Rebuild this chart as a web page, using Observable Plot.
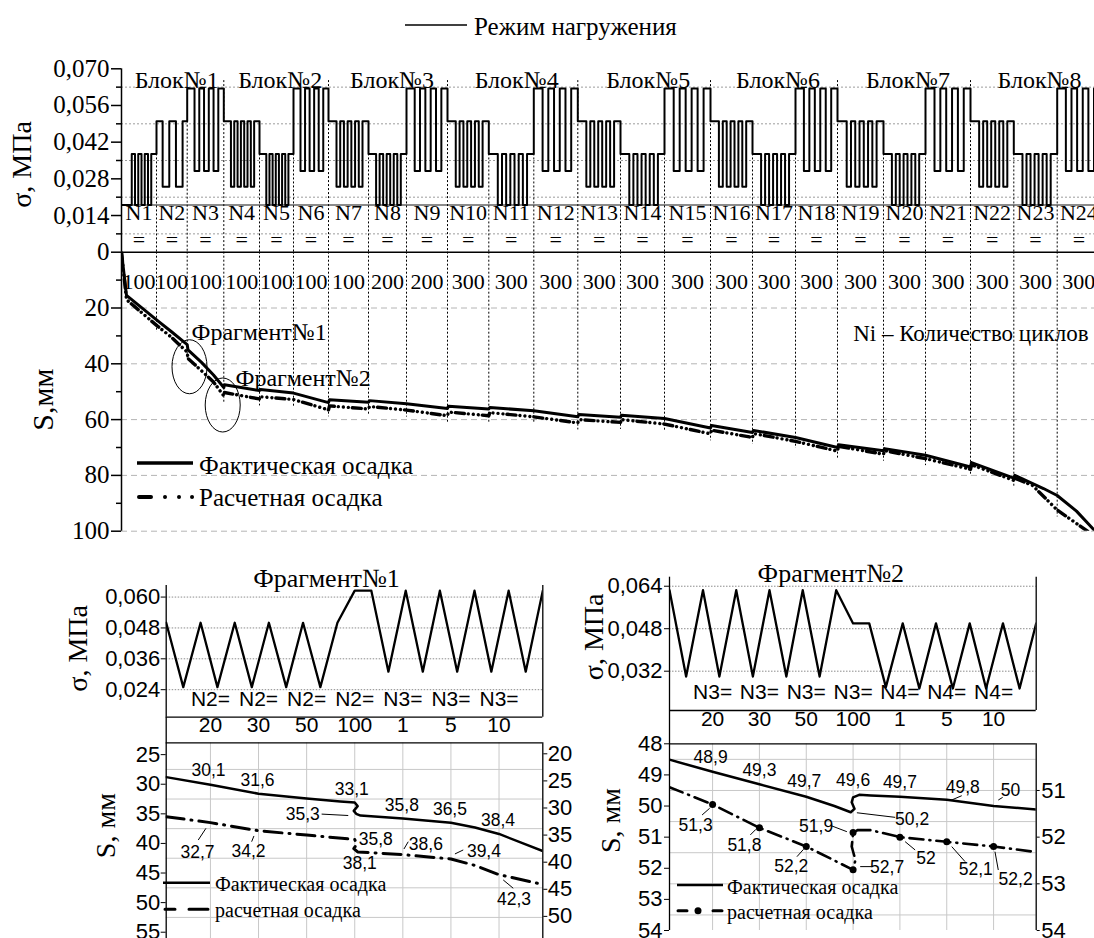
<!DOCTYPE html>
<html lang="ru">
<head>
<meta charset="utf-8">
<title>Режим нагружения и осадка</title>
<script src="https://cdn.jsdelivr.net/npm/d3@7"></script>
<script src="https://cdn.jsdelivr.net/npm/@observablehq/plot@0.6"></script>
<style>
  html, body { margin: 0; padding: 0; background: #fff; }
  #wrap { position: relative; width: 1094px; height: 938px; overflow: hidden; background: #fff; }
</style>
</head>
<body>
<div id="wrap"></div>
<script>
const SERIF = "Liberation Serif, Times New Roman, DejaVu Serif, serif";
const SANS = "Liberation Sans, Arial, DejaVu Sans, sans-serif";

// ================= DATA: main chart =================
const segNames = ["N1","N2","N3","N4","N5","N6","N7","N8","N9","N10","N11","N12","N13","N14","N15","N16","N17","N18","N19","N20","N21","N22","N23","N24"];
const segCycles = [100,100,100,100,100,100,100,200,200,300,300,300,300,300,300,300,300,300,300,300,300,300,300,300];
const segDuration = [35,30.7,36.6,35.7,34,35,40,38,41,41.3,45,44,42.7,44,46,42,43,42,46,42,45,43.3,43.4,43.3];
const segHigh = [0.0375,0.05,0.0625,0.05,0.0375,0.0625,0.05,0.0375,0.0625,0.05,0.0375,0.0625,0.05,0.0375,0.0625,0.05,0.0375,0.0625,0.05,0.0375,0.0625,0.05,0.0375,0.0625];
const segLow  = [0.018,0.025,0.031,0.025,0.018,0.031,0.025,0.018,0.031,0.025,0.018,0.031,0.025,0.018,0.031,0.025,0.018,0.031,0.025,0.018,0.031,0.025,0.018,0.031];
const segNotches = [4,2,3,4,4,3,4,4,3,4,4,3,4,4,3,4,4,3,4,4,3,4,4,3];
const blockNames = ["Блок№1","Блок№2","Блок№3","Блок№4","Блок№5","Блок№6","Блок№7","Блок№8"];
const baseLevel = 0.018;
const stressTicks = [0,0.014,0.028,0.042,0.056,0.070];
const stressMinor = [0.007,0.021,0.035,0.049,0.063];
const settleTicks = [20,40,60,80,100];
const settleMinor = [10,30,50,70,90];

// settlement curves (time units, mm)
const actualT = [0,5,36,50,65.7,66.5,80,92,102.3,103,138,139,172,207,208,247,248,285,326,327,367.3,368.3,412.3,456.3,457.3,499,500,543,589,590,631,632,674,716,717,762,763,804,849,850,892.3,893.3,922,935.7,955,973];
const actualS = [0,15.5,24.5,28.5,33.1,35.0,39.5,44,48.5,47.5,49.6,49.2,50.5,53.9,52.9,53.8,53.2,54.3,56.0,55.2,56.2,55.7,56.8,59.0,58.2,59.2,58.4,59.6,63.0,62.1,64.6,63.9,66.4,70.0,69.0,71.2,70.4,72.8,77.0,75.4,81.0,80.0,84.7,87.2,92.8,99.7];
const calcT = [0,5,36,50,65.7,66.5,80,92,102.3,103,138,139,172,207,208,247,248,285,326,327,367.3,368.3,412.3,456.3,457.3,499,500,543,589,590,631,632,674,716,717,762,763,804,849,850,892.3,893.3,911,935.7,966,980];
const calcS = [0,17,26.5,30.5,35.8,38.1,42.5,46.5,51.5,50.3,52.6,51.8,52.8,56.5,55.1,56.2,55.3,56.6,58.6,57.3,58.6,57.5,59.0,61.2,60.0,61.0,60.0,61.6,65.1,63.8,66.4,65.0,67.8,71.3,69.6,72.4,71.1,74.0,77.8,76.2,81.8,81.0,83.6,92.4,100,103];

// ================= DATA: fragments =================
const fragI = [0,1,2,3,4,5,6];
const fragCycles = [20,30,50,100,1,5,10];
const frag1Seg = ["N2","N2","N2","N2","N3","N3","N3"];
const frag2Seg = ["N3","N3","N3","N3","N4","N4","N4"];
const fragWaveI = [-0.92,-0.565,-0.205,0.145,0.505,0.86,1.215,1.575,1.925,2.285,2.64,3.0,3.345,3.7,4.06,4.415,4.77,5.13,5.49,5.84,6.2,6.555,6.91];
const frag1Stress = [0.050,0.025,0.050,0.025,0.050,0.025,0.050,0.025,0.050,0.025,0.050,0.0625,0.0625,0.031,0.0625,0.031,0.0625,0.031,0.0625,0.031,0.0625,0.031,0.0625];
const frag2Stress = [0.0625,0.030,0.0625,0.030,0.0625,0.030,0.0625,0.030,0.0625,0.030,0.0625,0.050,0.050,0.026,0.050,0.0255,0.050,0.0255,0.050,0.0255,0.050,0.0255,0.050];
const frag1Ticks = [0.024,0.036,0.048,0.060];
const frag2Ticks = [0.032,0.048,0.064];

const f1ActI = [-0.92,0,1,2,2.7,3.0,3.06,2.98,3.03,3.12,4,5,5.5,6,6.91];
const f1ActS = [28.8,30.1,31.6,32.4,32.9,33.1,33.7,34.5,35.0,35.3,35.8,36.5,37.3,38.4,41.3];
const f1CalcI = [-0.92,0,1,2,3.0,3.04,2.98,3.06,4,5,5.5,6,6.91];
const f1CalcS = [31.6,32.7,34.2,35.0,35.8,36.7,37.5,38.1,38.6,39.4,40.6,42.3,44.1];
const f1ActValI = [0,1,3,3,4,5,6];
const f1ActVals = [30.1,31.6,33.1,35.3,35.8,36.5,38.4];
const f1CalcValI = [0,1,3,3,4,5,6];
const f1CalcVals = [32.7,34.2,35.8,38.1,38.6,39.4,42.3];

const f2ActI = [-0.92,0,1,2,2.6,2.95,3.03,2.97,3.0,3.13,3.38,4,5,6,6.91];
const f2ActS = [48.51,48.9,49.3,49.7,50.0,50.2,50.09,49.88,49.72,49.64,49.66,49.7,49.8,50.0,50.11];
const f2CalcI = [-0.92,0,1,2,2.7,3.0,3.05,2.97,3.0,3.09,3.38,4,5,6,6.91];
const f2CalcS = [50.93,51.3,51.8,52.2,52.55,52.7,52.49,52.2,51.93,51.85,51.85,52.0,52.1,52.2,52.32];
const f2ActValI = [0,1,2,3,3,4,5,6];
const f2ActVals = [48.9,49.3,49.7,50.2,49.6,49.7,49.8,50];
const f2CalcValI = [0,1,2,3,3,4,5,6];
const f2CalcVals = [51.3,51.8,52.2,52.7,51.9,52,52.1,52.2];

// ================= LAYOUT (label offsets in px: dx, dy, leader[x1,y1,x2,y2]) =================
const f1ActLayout = [[-2,-14],[-1,-13],[-3,-13],[-52,-1,[-32.6,-1,-6,0.4]],[-1,-13],[-1,-13],[-1,-14]];
const f1CalcLayout = [[-13,30,[-11.7,17.9,-4,6.2]],[-10,21,[-6.4,11.4,-4.1,5.7]],[21,0],[5,11],[23,-10,[1.6,-5.1,5.9,-12.4]],[33,-8,[4.5,-4.5,12.8,-8.5]],[15,25,[4.7,5.8,14.7,14.1]]];
const f2ActLayout = [[-2,-14],[0,-14],[-2,-15],[59,7,[4.3,1,42.6,5.6]],[0,-13],[0,-14.5],[16,-12,[3.8,1.4,15.5,-3.6]],[17,-16,[5.2,-5.5,9.6,-8.2]]];
const f2CalcLayout = [[-17,21,[-10,11,-2.4,4.3]],[-15,18,[-8.6,7.6,-3,2]],[-15,20,[-8.8,10.7,-2.2,3.3]],[34,-2,[7.6,-2.7,19.3,-2.7]],[-37,-6,[-20.7,-6,-5.7,-0.3]],[26,21,[5.7,5,15.7,13.3]],[29,28,[5.5,5.3,18.8,20.3]],[22,33,[1.9,5.7,5.2,24]]];

// ================= DERIVED =================
const bounds = [0];
segDuration.forEach(d => bounds.push(+(bounds[bounds.length - 1] + d).toFixed(2)));
const segs = segNames.map((name, k) => ({name, cycles: segCycles[k], t: (bounds[k] + bounds[k + 1]) / 2}));
const blocks = blockNames.map((name, j) => ({name, t: (bounds[3 * j] + bounds[3 * j + 3]) / 2}));

const wave = [];
segDuration.forEach((W, k) => {
  const s = bounds[k], H = segHigh[k], L = segLow[k], n = segNotches[k];
  const a = 0.2 * W, b = 0.15 * W, w = (W - a - b) / (2 * n - 1);
  const P = k === 0 ? L : H;
  wave.push({t: s, v: P});
  let x = s + a;
  wave.push({t: x, v: P});
  for (let j = 0; j < n; j++) {
    wave.push({t: x, v: L}); x += w; wave.push({t: x, v: L});
    wave.push({t: x, v: H});
    if (j < n - 1) { x += w; wave.push({t: x, v: H}); }
  }
  wave.push({t: s + W, v: H});
});

function interpAt(T, S, t) {
  for (let i = 0; i < T.length; i++) {
    if (T[i] >= t) {
      if (T[i] === t || i === 0) return S[i];
      const f = (t - T[i - 1]) / (T[i] - T[i - 1]);
      return S[i - 1] + f * (S[i] - S[i - 1]);
    }
  }
  return S[S.length - 1];
}
const vlines = bounds.slice(1, -1).map((t, j) => {
  const k = j + 1;
  const isBlock = k % 3 === 0;
  return {
    t,
    top: isBlock ? 0.0655 : Math.min(segHigh[k - 1], segHigh[k]),
    bottom: Math.max(interpAt(calcT, calcS, t), interpAt(actualT, actualS, t)) + 2.5
  };
});
const actual = actualT.map((t, i) => ({t, s: actualS[i]}));
const calc = calcT.map((t, i) => ({t, s: calcS[i]}));

const fmt3 = d => d === 0 ? "0" : d.toFixed(3).replace(".", ",");
const fmtInt = d => String(d);
const fmtVal = v => String(v).replace(".", ",");
const NS = "http://www.w3.org/2000/svg";
function findScales(args) { return args.find(a => a && typeof a === "object" && typeof a.x === "function" && typeof a.y === "function"); }
function ellipseMark(items) {
  return function (...args) {
    const sc = findScales(args);
    const g = document.createElementNS(NS, "g");
    items.forEach(it => {
      const e = document.createElementNS(NS, "ellipse");
      e.setAttribute("cx", sc.x(it.t) + it.ox);
      e.setAttribute("cy", sc.y(it.s) + it.oy);
      e.setAttribute("rx", it.rx); e.setAttribute("ry", it.ry);
      e.setAttribute("fill", "none"); e.setAttribute("stroke", "#000"); e.setAttribute("stroke-width", 1);
      g.appendChild(e);
    });
    return g;
  };
}
function leaderMark(I, V, layout) {
  return function (...args) {
    const sc = findScales(args);
    const g = document.createElementNS(NS, "g");
    I.forEach((i, k) => {
      const L = layout[k][2]; if (!L) return;
      const x = sc.x(i), y = sc.y(V[k]);
      const ln = document.createElementNS(NS, "line");
      ln.setAttribute("x1", x + L[0]); ln.setAttribute("y1", y + L[1]);
      ln.setAttribute("x2", x + L[2]); ln.setAttribute("y2", y + L[3]);
      ln.setAttribute("stroke", "#000"); ln.setAttribute("stroke-width", 1);
      g.appendChild(ln);
    });
    return g;
  };
}
function valueLabels(I, V, layout) {
  return I.map((i, k) => Plot.text([{i, v: V[k]}], {
    x: "i", y: "v", text: d => fmtVal(d.v), dx: layout[k][0], dy: layout[k][1],
    fontSize: 17.5, fontFamily: SANS
  }));
}
function yLabel(txt, dx, dy, size) {
  return Plot.text([txt], {text: d => d, frameAnchor: "left", textAnchor: "middle", dx, dy, rotate: -90, fontSize: size, fontFamily: SERIF});
}
const st = (family, size) => ({fontFamily: family, fontSize: size + "px", background: "transparent", overflow: "visible", color: "#000"});

const wrap = document.getElementById("wrap");
function mount(el, top) { el.style.position = "absolute"; el.style.left = "0px"; el.style.top = top + "px"; wrap.appendChild(el); }

// ================= MAIN: stress panel =================
const stressPlot = Plot.plot({
  width: 1094, height: 262,
  marginLeft: 121, marginRight: 0, marginTop: 68.3, marginBottom: 10.3,
  x: {domain: [0, 973], axis: null},
  y: {domain: [0, 0.07]},
  style: st(SERIF, 25),
  marks: [
    Plot.ruleY(stressMinor, {stroke: "#9c9c9c", strokeDasharray: "2,2", strokeWidth: 1}),
    Plot.ruleY([baseLevel], {stroke: "#8a8a8a", strokeWidth: 2}),
    Plot.ruleX(vlines, {x: "t", y1: "top", y2: 0, stroke: "#000", strokeWidth: 1, strokeDasharray: "2,2"}),
    Plot.line(wave, {x: "t", y: "v", stroke: "#000", strokeWidth: 2, clip: true}),
    Plot.ruleY([0], {stroke: "#000", strokeWidth: 1.5}),
    Plot.ruleX([0], {y1: 0, y2: 0.07, stroke: "#000", strokeWidth: 1.5}),
    Plot.axisY({ticks: stressTicks, tickFormat: fmt3, tickSize: 10, tickPadding: 2, strokeWidth: 1.5, fontSize: 25, fontFamily: SERIF, label: null}),
    Plot.axisY({ticks: stressMinor, tickFormat: () => "", tickSize: 5, strokeWidth: 1.5, label: null}),
    Plot.text(blocks, {x: "t", text: "name", frameAnchor: "top", dx: 4, dy: 2, fontSize: 24, fontFamily: SERIF}),
    Plot.text(segs, {x: "t", text: "name", frameAnchor: "bottom", dy: -32, fontSize: 22, fontFamily: SERIF}),
    Plot.text(segs, {x: "t", text: () => "=", frameAnchor: "bottom", dy: -5, fontSize: 22, fontFamily: SERIF}),
    yLabel("σ, МПа", -99, 4, 28)
  ]
});
mount(stressPlot, 0);

// ================= MAIN: settlement panel =================
const settlePlot = Plot.plot({
  width: 1094, height: 320,
  marginLeft: 121, marginRight: 0, marginTop: 21.7, marginBottom: 19.3,
  x: {domain: [0, 973], axis: null},
  y: {domain: [0, 100], reverse: true},
  style: st(SERIF, 25),
  marks: [
    Plot.ruleY(settleTicks, {stroke: "#b4b4b4", strokeDasharray: "6,4", strokeWidth: 1}),
    Plot.ruleX(vlines, {x: "t", y1: 0, y2: "bottom", stroke: "#000", strokeWidth: 1, strokeDasharray: "2,2"}),
    Plot.text(segs, {x: "t", text: d => String(d.cycles), frameAnchor: "top", dy: 21.3, fontSize: 22, fontFamily: SERIF}),
    Plot.line(calc, {x: "t", y: "s", stroke: "#000", strokeWidth: 3.4, strokeDasharray: "9,4,0.01,5,0.01,5,0.01,4", strokeLinecap: "round", clip: true}),
    Plot.line(actual, {x: "t", y: "s", stroke: "#000", strokeWidth: 3, clip: true}),
    Plot.ruleX([0], {y1: 0, y2: 100, stroke: "#000", strokeWidth: 1.5}),
    Plot.axisY({ticks: settleTicks, tickFormat: fmtInt, tickSize: 10, tickPadding: 2, strokeWidth: 1.5, fontSize: 25, fontFamily: SERIF, label: null}),
    Plot.axisY({ticks: settleMinor, tickFormat: () => "", tickSize: 5, strokeWidth: 1.5, label: null}),
    yLabel("S,мм", -78, 8, 30),
    Plot.text(["Ni – Количество циклов"], {text: d => d, frameAnchor: "top-right", textAnchor: "end", dx: -6, dy: 72.3, fontSize: 23, fontFamily: SERIF}),
    Plot.text(["Фрагмент№1"], {text: d => d, frameAnchor: "top-left", textAnchor: "start", dx: 70, dy: 70.5, fontSize: 24, fontFamily: SERIF}),
    Plot.text(["Фрагмент№2"], {text: d => d, frameAnchor: "top-left", textAnchor: "start", dx: 114, dy: 117, fontSize: 24, fontFamily: SERIF}),
    ellipseMark([
      {t: bounds[2], s: interpAt(actualT, actualS, bounds[2]), ox: 2.8, oy: 22.7, rx: 17.5, ry: 27},
      {t: bounds[3], s: interpAt(actualT, actualS, bounds[3]), ox: -0.6, oy: 18, rx: 17.5, ry: 27}
    ])
  ]
});
mount(settlePlot, 230);

// ================= FRAGMENT 1 =================
const fXDomain = [-0.92, 6.91];
const f1Wave = fragWaveI.map((i, k) => ({i, v: frag1Stress[k]}));
const f1Pts = fragI.map((i, k) => ({i, seg: frag1Seg[k], cycles: fragCycles[k]}));
const f1Stress = Plot.plot({
  width: 1094, height: 200,
  marginLeft: 165.7, marginRight: 551.7, marginTop: 45, marginBottom: 23.3,
  x: {domain: fXDomain, axis: null},
  y: {domain: [0.0133, 0.0645]},
  style: st(SANS, 22),
  marks: [
    Plot.ruleY(frag1Ticks, {stroke: "#8c8c8c", strokeDasharray: "1.5,1.5"}),
    Plot.line(f1Wave, {x: "i", y: "v", stroke: "#000", strokeWidth: 2.3, clip: true}),
    Plot.ruleX(fXDomain, {stroke: "#000", strokeWidth: 1.3}),
    Plot.ruleY([0.0133], {stroke: "#000", strokeWidth: 1.3}),
    Plot.axisY({ticks: frag1Ticks, tickFormat: fmt3, tickSize: 5, tickPadding: 1, fontSize: 22, fontFamily: SANS, label: null}),
    Plot.text(f1Pts, {x: "i", text: d => d.seg + "=", frameAnchor: "bottom", dy: -11.7, fontSize: 21, fontFamily: SANS}),
    Plot.text(f1Pts, {x: "i", text: d => String(d.cycles), frameAnchor: "bottom", dy: 15, fontSize: 21, fontFamily: SANS}),
    Plot.text(["Фрагмент№1"], {text: d => d, frameAnchor: "top", dx: -28, dy: -17, fontSize: 26, fontFamily: SERIF}),
    yLabel("σ, МПа", -88, -3, 28)
  ]
});
mount(f1Stress, 540);

const f1Act = f1ActI.map((i, k) => ({i, s: f1ActS[k]}));
const f1Calc = f1CalcI.map((i, k) => ({i, s: f1CalcS[k]}));
const f1Left = Plot.plot({
  width: 1094, height: 240,
  marginLeft: 165.7, marginRight: 551.7, marginTop: 22.3, marginBottom: 20,
  x: {domain: fXDomain, axis: null},
  y: {domain: [23, 56.4], reverse: true},
  style: st(SANS, 22),
  marks: [
    Plot.ruleY([27.5, 32.5, 37.5, 42.5, 47.5, 52.5], {stroke: "#c8c8c8", strokeWidth: 1}),
    Plot.ruleX(fragI, {stroke: "#c8c8c8", strokeWidth: 1}),
    Plot.ruleY([23], {stroke: "#000", strokeWidth: 1.3}),
    Plot.ruleX([fXDomain[0]], {stroke: "#000", strokeWidth: 1.3, insetTop: -25.6}),
    Plot.line(f1Act, {x: "i", y: "s", stroke: "#000", strokeWidth: 2.5, clip: true}),
    Plot.axisY({ticks: [25, 30, 35, 40, 45, 50, 55], tickFormat: fmtInt, tickSize: 5, tickPadding: 1, fontSize: 22, fontFamily: SANS, label: null}),
    valueLabels(f1ActValI, f1ActVals, f1ActLayout),
    leaderMark(f1ActValI, f1ActVals, f1ActLayout),
    yLabel("S, мм", -60, -16, 28)
  ]
});
mount(f1Left, 720);

const f1Right = Plot.plot({
  width: 1094, height: 240,
  marginLeft: 165.7, marginRight: 551.7, marginTop: 22.3, marginBottom: 20,
  x: {domain: fXDomain, axis: null},
  y: {domain: [17.97, 54.45], reverse: true},
  style: st(SANS, 22),
  marks: [
    Plot.ruleX([fXDomain[1]], {stroke: "#000", strokeWidth: 1.3}),
    Plot.line(f1Calc, {x: "i", y: "s", stroke: "#000", strokeWidth: 3, strokeDasharray: "18,7,1,7", strokeLinecap: "round", clip: true}),
    Plot.axisY({anchor: "right", ticks: [20, 25, 30, 35, 40, 45, 50], tickFormat: fmtInt, tickSize: 4, tickPadding: 1, fontSize: 22, fontFamily: SANS, label: null}),
    valueLabels(f1CalcValI, f1CalcVals, f1CalcLayout),
    leaderMark(f1CalcValI, f1CalcVals, f1CalcLayout)
  ]
});
mount(f1Right, 720);

// ================= FRAGMENT 2 =================
const f2Wave = fragWaveI.map((i, k) => ({i, v: frag2Stress[k]}));
const f2Pts = fragI.map((i, k) => ({i, seg: frag2Seg[k], cycles: fragCycles[k]}));
const f2Stress = Plot.plot({
  width: 1094, height: 200,
  marginLeft: 669, marginRight: 58.3, marginTop: 36.7, marginBottom: 30,
  x: {domain: fXDomain, axis: null},
  y: {domain: [0.0172, 0.0674]},
  style: st(SANS, 22),
  marks: [
    Plot.ruleY(frag2Ticks, {stroke: "#8c8c8c", strokeDasharray: "1.5,1.5"}),
    Plot.line(f2Wave, {x: "i", y: "v", stroke: "#000", strokeWidth: 2.3, clip: true}),
    Plot.ruleX(fXDomain, {stroke: "#000", strokeWidth: 1.3}),
    Plot.ruleY([0.0172], {stroke: "#000", strokeWidth: 1.3}),
    Plot.axisY({ticks: frag2Ticks, tickFormat: fmt3, tickSize: 5, tickPadding: 2, fontSize: 22, fontFamily: SANS, label: null}),
    Plot.text(f2Pts, {x: "i", text: d => d.seg + "=", frameAnchor: "bottom", dy: -11.7, fontSize: 21, fontFamily: SANS}),
    Plot.text(f2Pts, {x: "i", text: d => String(d.cycles), frameAnchor: "bottom", dy: 15, fontSize: 21, fontFamily: SANS}),
    Plot.text(["Фрагмент№2"], {text: d => d, frameAnchor: "top", dx: -22, dy: -14, fontSize: 26, fontFamily: SERIF}),
    yLabel("σ, МПа", -75, -7, 28)
  ]
});
mount(f2Stress, 540);

const f2Act = f2ActI.map((i, k) => ({i, s: f2ActS[k]}));
const f2Calc = f2CalcI.map((i, k) => ({i, s: f2CalcS[k]}));
const f2Left = Plot.plot({
  width: 1094, height: 240,
  marginLeft: 669, marginRight: 58.3, marginTop: 23.3, marginBottom: 30,
  x: {domain: fXDomain, axis: null},
  y: {domain: [48, 54], reverse: true},
  style: st(SANS, 22),
  marks: [
    Plot.ruleY([48.5, 49.5, 50.5, 51.5, 52.5, 53.5], {stroke: "#c8c8c8", strokeWidth: 1}),
    Plot.ruleX(fragI, {stroke: "#c8c8c8", strokeWidth: 1}),
    Plot.ruleY([48], {stroke: "#000", strokeWidth: 1.3}),
    Plot.ruleX([fXDomain[0]], {stroke: "#000", strokeWidth: 1.3, insetTop: -33.3}),
    Plot.line(f2Act, {x: "i", y: "s", stroke: "#000", strokeWidth: 2.5, clip: true}),
    Plot.axisY({ticks: [48, 49, 50, 51, 52, 53, 54], tickFormat: fmtInt, tickSize: 5, tickPadding: 2, fontSize: 22, fontFamily: SANS, label: null}),
    valueLabels(f2ActValI, f2ActVals, f2ActLayout),
    leaderMark(f2ActValI, f2ActVals, f2ActLayout),
    yLabel("S, мм", -58, -16.6, 28)
  ]
});
mount(f2Left, 720);

const f2Right = Plot.plot({
  width: 1094, height: 240,
  marginLeft: 669, marginRight: 58.3, marginTop: 23.3, marginBottom: 30,
  x: {domain: fXDomain, axis: null},
  y: {domain: [50, 54], reverse: true},
  style: st(SANS, 22),
  marks: [
    Plot.ruleX([fXDomain[1]], {stroke: "#000", strokeWidth: 1.3}),
    Plot.line(f2Calc, {x: "i", y: "s", stroke: "#000", strokeWidth: 2.6, strokeDasharray: "14,6,1,6", strokeLinecap: "round", clip: true}),
    Plot.dot(f2CalcValI.map((i, k) => ({i, s: f2CalcVals[k]})), {x: "i", y: "s", r: 3.5, fill: "#000"}),
    Plot.axisY({anchor: "right", ticks: [51, 52, 53, 54], tickFormat: fmtInt, tickSize: 3, tickPadding: 2, fontSize: 22, fontFamily: SANS, label: null}),
    valueLabels(f2CalcValI, f2CalcVals, f2CalcLayout),
    leaderMark(f2CalcValI, f2CalcVals, f2CalcLayout)
  ]
});
mount(f2Right, 720);

// ================= LEGENDS (overlay) =================
const ov = d3.create("svg").attr("width", 1094).attr("height", 938)
  .style("position", "absolute").style("left", "0px").style("top", "0px").style("overflow", "visible");
function legLine(x1, x2, y, w, dash) {
  const l = ov.append("line").attr("x1", x1).attr("x2", x2).attr("y1", y).attr("y2", y)
    .attr("stroke", "#000").attr("stroke-width", w);
  if (dash) l.attr("stroke-dasharray", dash).attr("stroke-linecap", "round");
}
function legText(x, y, txt, size) {
  ov.append("text").attr("x", x).attr("y", y).attr("dy", "0.35em")
    .style("font-family", SERIF).style("font-size", size + "px").attr("fill", "#000").text(txt);
}
legLine(405, 467, 25, 1.5);
legText(474, 26, "Режим нагружения", 25);
legLine(137, 193, 463, 3.5);
legText(199, 465, "Фактическая осадка", 25);
legLine(139, 193, 497, 4, "12,14,0.01,14,0.01,13,0.01,100");
legText(199, 497, "Расчетная осадка", 25);
legLine(163, 210, 882.7, 2.5);
legText(215, 884, "Фактическая осадка", 20);
legLine(165, 208, 909.3, 3, "10,14,22");
legText(215, 910, "расчетная осадка", 20);
legLine(677, 723, 885, 2.5);
legText(727, 887, "Фактическая осадка", 20);
legLine(678, 722, 910.7, 3, "9,26,12");
ov.append("circle").attr("cx", 698).attr("cy", 910.7).attr("r", 3.5).attr("fill", "#000");
legText(727, 912, "расчетная осадка", 20);
wrap.appendChild(ov.node());
</script>
</body>
</html>
